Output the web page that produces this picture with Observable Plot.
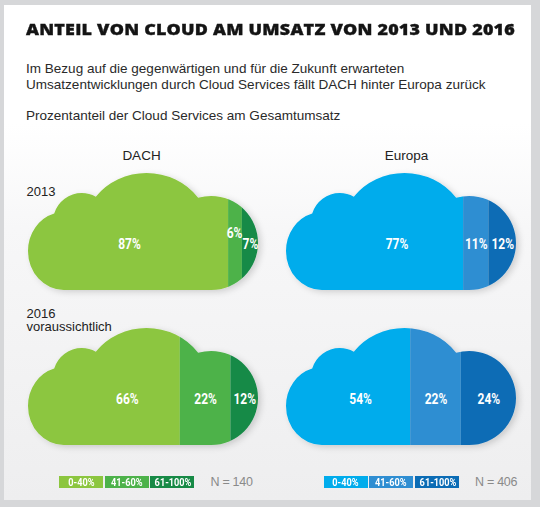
<!DOCTYPE html>
<html>
<head>
<meta charset="utf-8">
<script src="https://cdn.jsdelivr.net/npm/d3@7"></script>
<script src="https://cdn.jsdelivr.net/npm/@observablehq/plot@0.6"></script>
<style>
html, body { margin: 0; padding: 0; }
body { width: 540px; height: 507px; background: #d6d7d9; position: relative; overflow: hidden;
  font-family: "Liberation Sans", Arial, sans-serif; }
#card { position: absolute; left: 4px; top: 5px; width: 527px; height: 495px;
  background: linear-gradient(#ffffff 0%, #ffffff 24%, #f7f7f8 45%, #eeeeef 100%); }
.abs { position: absolute; white-space: nowrap; }
#title { left: 26px; top: 18.6px; font-family: "Open Sans", Lato, sans-serif; font-weight: 800;
  font-size: 16.5px; line-height: 20px; color: #141414; -webkit-text-stroke: 0.35px #141414;
  letter-spacing: 0.2px; transform-origin: 0 50%; }
.sub { left: 26px; font-size: 13.5px; line-height: 16px; color: #2a2a2a; }
#chart { position: absolute; left: 0; top: 130px; }
.legend { position: absolute; top: 476px; display: flex; align-items: center; }
.legend .box { width: 44px; height: 12px; margin-right: 1.5px; color: #fff; font-weight: bold;
  font-family: Roboto, "Liberation Sans", sans-serif; white-space: nowrap; overflow: hidden;
  font-size: 11.5px; line-height: 12px; text-align: center; }
.legend .box span { display: inline-block; transform: scaleX(0.8); }
.legend .n { margin-left: 15px; font-size: 12.5px; letter-spacing: -0.3px; color: #8a8a8a; line-height: 12px; white-space: nowrap; }
</style>
</head>
<body>
<div id="card"></div>
<div id="title" class="abs">ANTEIL VON CLOUD AM UMSATZ VON 2013 UND 2016</div>
<div id="sub1" class="abs sub" style="top:60.7px">Im Bezug auf die gegenwärtigen und für die Zukunft erwarteten</div>
<div id="sub2" class="abs sub" style="top:76.6px">Umsatzentwicklungen durch Cloud Services fällt DACH hinter Europa zurück</div>
<div id="sub3" class="abs sub" style="top:108.3px">Prozentanteil der Cloud Services am Gesamtumsatz</div>
<div id="chart"></div>
<script>
// ---- data ----
const regions = ["DACH", "Europa"];
const years = ["2013", "2016"];
const yearLabels = ["2013", "2016\nvoraussichtlich"];
const bands = ["0-40%", "41-60%", "61-100%"];
const dach2013 = [87, 6, 7];
const dach2016 = [66, 22, 12];
const europa2013 = [77, 11, 12];
const europa2016 = [54, 22, 24];
const sampleSizes = [140, 406];
const greens = ["#8cc63f", "#4db24a", "#178a46"];
const blues = ["#00acec", "#2f8ed2", "#0b6cb5"];

const seriesFor = {
  DACH: {"2013": dach2013, "2016": dach2016},
  Europa: {"2013": europa2013, "2016": europa2016}
};
const palettes = [greens, blues];

const rows = [];
regions.forEach((r, ri) => {
  years.forEach(y => {
    let acc = 0;
    seriesFor[r][y].forEach((v, i) => {
      rows.push({region: r, year: y, band: bands[i], index: i, value: v,
        x1: acc, x2: acc + v, mid: acc + v / 2, color: palettes[ri][i]});
      acc += v;
    });
  });
});

// ---- fit header texts ----
function fitSize(el, target) {
  const fs = parseFloat(getComputedStyle(el).fontSize);
  const w = el.getBoundingClientRect().width;
  return fs * target / w;
}
const titleEl = document.getElementById("title");
titleEl.style.transform = "scaleX(" + (489 / titleEl.getBoundingClientRect().width) + ")";
const subSize = fitSize(document.getElementById("sub2"), 460);
["sub1", "sub2", "sub3"].forEach(id => document.getElementById(id).style.fontSize = subSize + "px");

// ---- chart ----
const pctOpts = {x: "mid", fx: "region", fy: "year", text: d => d.value + "%",
  fill: "white", fontWeight: "bold", fontSize: 15, fontFamily: "Roboto, 'Liberation Sans', sans-serif",
  frameAnchor: "middle", lineAnchor: "middle", className: "pct"};

const isLifted = d => d.region === "DACH" && d.year === "2013" && d.index === 1;
const firstShift = [["DACH", "2013", 1], ["Europa", "2013", 22], ["DACH", "2016", 23], ["Europa", "2016", 12]];
const headerShift = [-2, 5];

const marks = [
  Plot.barX(rows, {x1: "x1", x2: "x2", fx: "region", fy: "year", fill: "color"}),
  Plot.text(rows.filter(d => d.index > 0 && !isLifted(d)), {...pctOpts, dy: 12.5}),
  Plot.text(rows.filter(isLifted), {...pctOpts, dy: 1.5, dx: -1}),
  ...firstShift.map(([r, y, s]) => Plot.text(rows.filter(d => d.index === 0 && d.region === r && d.year === y),
    {...pctOpts, dy: 12.5, dx: s})),
  ...regions.map((r, i) => Plot.text([r], {fx: d => d, fy: () => years[0], text: d => d, frameAnchor: "top",
    lineAnchor: "bottom", dy: -13.7, dx: headerShift[i], fontSize: 13.5, fill: "#222"})),
  Plot.text([yearLabels[0]], {fx: () => regions[0], fy: () => years[0], text: d => d,
    frameAnchor: "top-left", textAnchor: "start", lineAnchor: "bottom", dx: -2, dy: 22, fontSize: 13, fill: "#222"}),
  Plot.text([yearLabels[1]], {fx: () => regions[0], fy: () => years[1], text: d => d,
    frameAnchor: "top-left", textAnchor: "start", lineAnchor: "bottom", dx: -2, dy: 2.7, lineHeight: 1.05, fontSize: 13, fill: "#222"})
];

const plot = Plot.plot({
  width: 540, height: 330,
  marginTop: 43, marginBottom: 15, marginLeft: 27, marginRight: 23,
  x: {domain: [0, 100], axis: null},
  fx: {domain: regions, paddingInner: 0.108, paddingOuter: 0, axis: null},
  fy: {domain: years, paddingInner: 0.2452, paddingOuter: 0, axis: null},
  color: {type: "identity"},
  style: {background: "transparent", overflow: "visible", fontFamily: "'Liberation Sans', Arial, sans-serif"},
  marks
});
document.getElementById("chart").appendChild(plot);

// ---- cloud clip + shadow + condensed labels ----
const ns = "http://www.w3.org/2000/svg";
const svg = plot.tagName.toLowerCase() === "svg" ? plot : plot.querySelector("svg");
const defs = document.createElementNS(ns, "defs");
defs.innerHTML = `
  <clipPath id="cloudClip" clipPathUnits="objectBoundingBox">
    <ellipse cx="0.1558" cy="0.6667" rx="0.1558" ry="0.3333"/>
    <ellipse cx="0.2338" cy="0.4188" rx="0.1255" ry="0.2479"/>
    <ellipse cx="0.5152" cy="0.5128" rx="0.2771" ry="0.5128"/>
    <ellipse cx="0.7965" cy="0.5983" rx="0.2035" ry="0.4017"/>
    <rect x="0.1558" y="0.5" width="0.6407" height="0.5"/>
  </clipPath>
  <filter id="cloudShadow" x="-10%" y="-10%" width="125%" height="130%">
    <feDropShadow dx="3" dy="2" stdDeviation="3" flood-color="#000" flood-opacity="0.16"/>
  </filter>`;
svg.insertBefore(defs, svg.firstChild);
const groups = new Set();
svg.querySelectorAll('g[aria-label="bar"] rect').forEach(r => groups.add(r.parentNode));
groups.forEach(g => {
  g.setAttribute("clip-path", "url(#cloudClip)");
  const wrap = document.createElementNS(ns, "g");
  wrap.setAttribute("filter", "url(#cloudShadow)");
  g.parentNode.insertBefore(wrap, g);
  wrap.appendChild(g);
});
svg.querySelectorAll(".pct text").forEach(t => {
  const tr = t.getAttribute("transform") || "";
  const b = t.getBBox();
  const cx = b.x + b.width / 2;
  t.setAttribute("transform", `${tr} translate(${cx},0) scale(0.8,1) translate(${-cx},0)`);
});

// ---- legends ----
[[greens, 59, sampleSizes[0]], [blues, 323.6, sampleSizes[1]]].forEach(([pal, left, n]) => {
  const lg = document.createElement("div");
  lg.className = "legend";
  lg.style.left = left + "px";
  bands.forEach((b, i) => {
    const box = document.createElement("div");
    box.className = "box";
    box.style.background = pal[i];
    const sp = document.createElement("span");
    sp.textContent = b;
    box.appendChild(sp);
    lg.appendChild(box);
  });
  const nn = document.createElement("div");
  nn.className = "n";
  nn.textContent = "N = " + n;
  lg.appendChild(nn);
  document.body.appendChild(lg);
});
</script>
</body>
</html>
